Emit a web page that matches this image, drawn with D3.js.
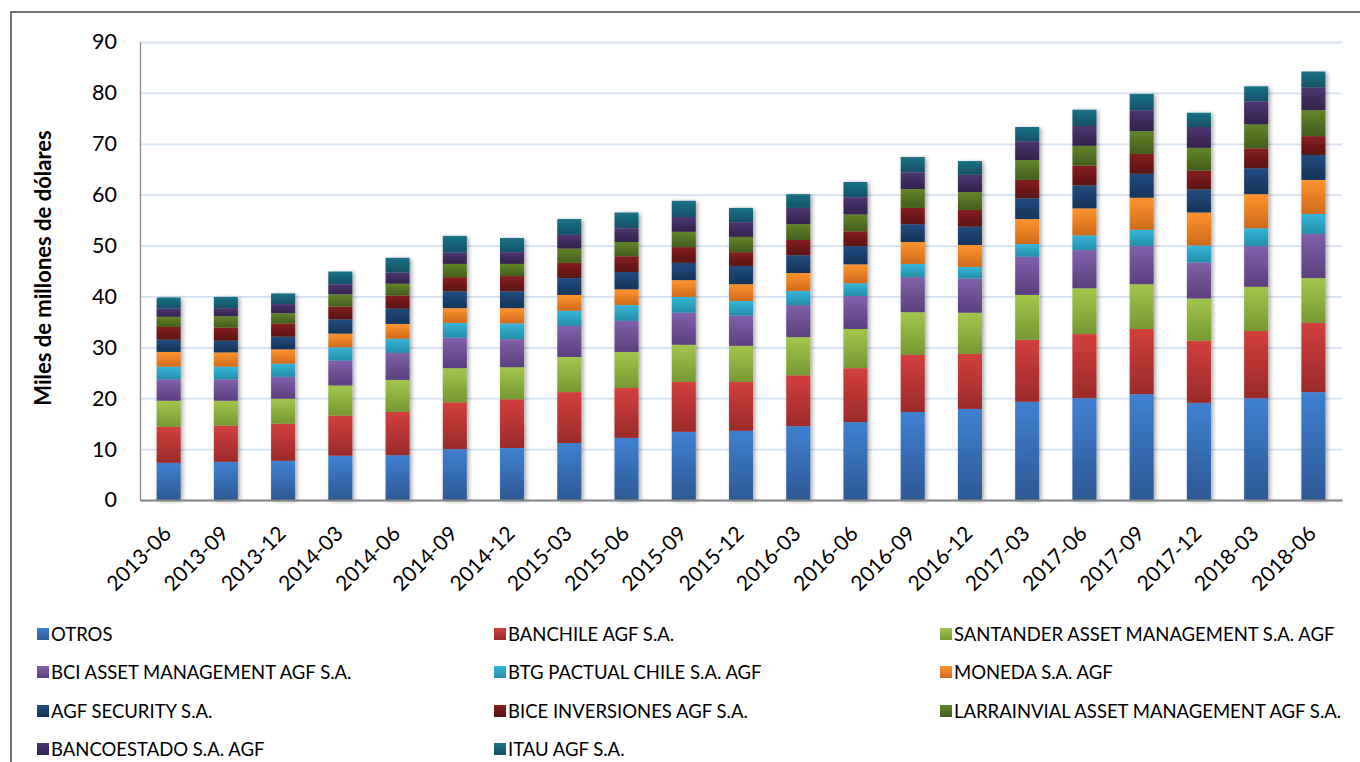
<!DOCTYPE html>
<html>
  <head>
    <meta charset="utf-8">
    <title>Patrimonio administrado por AGF</title>
    <script src="https://d3js.org/d3.v7.min.js"></script>
    <style>
      body { margin: 0; background: #fff; }
      text { font-family: Lato, "Open Sans", sans-serif; }
    </style>
  </head>
  <body>
    <script>
        // Data (miles de millones de dolares)
        var periods = ["2013-06","2013-09","2013-12","2014-03","2014-06","2014-09","2014-12",
                       "2015-03","2015-06","2015-09","2015-12","2016-03","2016-06","2016-09",
                       "2016-12","2017-03","2017-06","2017-09","2017-12","2018-03","2018-06"];

        var otros       = [7.3,7.5,7.7,8.7,8.8,10.0,10.2,11.2,12.2,13.4,13.6,14.5,15.3,17.3,17.9,19.3,20.0,20.8,19.1,20.0,21.2];
        var banchile    = [7.1,7.1,7.3,7.9,8.5,9.2,9.6,10.0,9.8,9.8,9.6,10.0,10.6,11.2,10.8,12.2,12.6,12.8,12.2,13.2,13.6];
        var santander   = [5.1,4.9,4.9,5.9,6.3,6.7,6.3,6.9,7.1,7.3,7.1,7.5,7.7,8.4,8.1,8.8,9.0,8.8,8.3,8.7,8.8];
        var bci         = [4.2,4.2,4.3,4.9,5.3,6.0,5.5,6.1,6.1,6.3,5.9,6.3,6.5,6.9,6.7,7.5,7.5,7.5,7.1,8.0,8.7];
        var btg         = [2.5,2.5,2.6,2.6,2.8,2.9,3.1,3.0,3.1,3.1,2.9,2.8,2.5,2.6,2.3,2.5,2.9,3.2,3.3,3.5,3.9];
        var moneda      = [2.9,2.8,2.8,2.7,2.9,2.9,3.0,3.1,3.1,3.3,3.3,3.5,3.7,4.3,4.3,4.9,5.3,6.3,6.5,6.7,6.7];
        var security    = [2.4,2.3,2.5,2.8,3.0,3.3,3.3,3.3,3.4,3.4,3.6,3.5,3.6,3.5,3.6,4.1,4.5,4.7,4.5,5.1,4.9];
        var bice        = [2.5,2.6,2.6,2.5,2.6,2.8,3.0,3.0,3.1,3.1,2.7,3.0,2.9,3.2,3.3,3.6,3.9,3.9,3.7,3.9,3.7];
        var larrain     = [2.0,2.2,2.0,2.4,2.3,2.6,2.4,2.8,2.8,3.0,3.0,3.1,3.3,3.7,3.5,3.9,3.9,4.5,4.5,4.7,5.1];
        var bancoestado = [1.6,1.6,1.8,2.0,2.2,2.2,2.3,2.7,2.7,2.9,2.9,3.2,3.4,3.3,3.4,3.7,3.9,4.1,4.1,4.5,4.5];
        var itau        = [2.2,2.2,2.1,2.5,2.9,3.3,2.8,3.1,3.1,3.2,2.8,2.7,3.0,3.0,2.7,2.8,3.2,3.2,2.8,3.0,3.1];

        var seriesNames = ["OTROS","BANCHILE AGF S.A.","SANTANDER ASSET MANAGEMENT S.A. AGF",
                           "BCI ASSET MANAGEMENT AGF S.A.","BTG PACTUAL CHILE S.A. AGF","MONEDA S.A. AGF",
                           "AGF SECURITY S.A.","BICE INVERSIONES AGF S.A.","LARRAINVIAL ASSET MANAGEMENT AGF S.A.",
                           "BANCOESTADO S.A. AGF","ITAU AGF S.A."];
        var seriesValues = [otros, banchile, santander, bci, btg, moneda, security, bice, larrain, bancoestado, itau];
        var yTicks = [0,10,20,30,40,50,60,70,80,90];

        // top / bottom colours of each gradient
        var colorsTop    = ["#3f80d0","#d33f3c","#a2c64c","#8060aa","#37b6da","#ff942e","#214c80","#861f1f","#62852a","#4c3573","#1b7389"];
        var colorsBottom = ["#2c5a95","#9a2b29","#769932","#5c3f7f","#238ea9","#cf6a1c","#15345a","#5a1212","#445e1b","#32234b","#125066"];

        var table = periods.map(function(p, i) {
            var row = {period: p};
            seriesNames.forEach(function(n, j) { row[n] = seriesValues[j][i]; });
            return row;
        });

        var margin = {top: 42, right: 18, bottom: 262, left: 140}
        var width = 1360 - margin.left - margin.right
        var height = 762 - margin.top - margin.bottom

        var root = d3.select("body").append("svg")
            .attr("width", 1360)
            .attr("height", 762);

        var defs = root.append("defs");
        seriesNames.forEach(function(n, j) {
            var g = defs.append("linearGradient")
                .attr("id", "grad" + j)
                .attr("x1", 0).attr("y1", 0).attr("x2", 0).attr("y2", 1);
            g.append("stop").attr("offset", "0%").attr("stop-color", colorsTop[j]);
            g.append("stop").attr("offset", "100%").attr("stop-color", colorsBottom[j]);
        });
        var shadow = defs.append("filter").attr("id", "shadow")
            .attr("x", "-50%").attr("y", "-10%").attr("width", "200%").attr("height", "120%");
        shadow.append("feDropShadow")
            .attr("dx", 2).attr("dy", 1).attr("stdDeviation", 2.2)
            .attr("flood-color", "#000").attr("flood-opacity", 0.35);

        // chart frame
        root.append("rect")
            .attr("x", 11).attr("y", 12)
            .attr("width", 1400).attr("height", 800)
            .attr("fill", "#fff")
            .attr("stroke", "#505050")
            .attr("stroke-width", 1.6);

        var svg = root.append("g")
            .attr("transform", "translate(" + margin.left + "," + margin.top + ")");

        var x = d3.scaleBand()
            .domain(periods)
            .range([0, width])
            .paddingInner(0.58)
            .paddingOuter(0.29);

        var y = d3.scaleLinear()
            .domain([0, 90])
            .range([height, 0]);

        // gridlines
        svg.append("g")
            .attr("class", "grid")
            .call(d3.axisLeft(y).tickValues(yTicks).tickSize(-width).tickFormat(""))
            .call(function(g) { g.select(".domain").remove(); })
            .selectAll("line")
            .attr("stroke", "#d6e1f1")
            .attr("stroke-width", 1.8);

        var stack = d3.stack().keys(seriesNames);
        var stacked = stack(table);

        var layers = svg.append("g")
            .attr("filter", "url(#shadow)")
            .selectAll("g")
            .data(stacked)
            .enter()
            .append("g")
            .attr("fill", function(d, i) { return "url(#grad" + i + ")"; });

        layers.selectAll("rect")
            .data(function(d) { return d; })
            .enter()
            .append("rect")
            .attr("x", function(d) { return x(d.data.period); })
            .attr("y", function(d) { return y(d[1]); })
            .attr("width", x.bandwidth())
            .attr("height", function(d) { return y(d[0]) - y(d[1]); });

        // y axis
        var yAxis = svg.append("g")
            .call(d3.axisLeft(y).tickValues(yTicks).tickSize(0).tickPadding(23));
        yAxis.select(".domain").attr("stroke", "#8c8c8c").attr("stroke-width", 1.3);
        yAxis.selectAll("text")
            .style("font-size", "21.5px")
            .style("font-family", "Lato")
            .attr("fill", "#000");

        // x axis
        var xAxis = svg.append("g")
            .attr("transform", "translate(0," + height + ")")
            .call(d3.axisBottom(x).tickSize(0));
        xAxis.select(".domain").attr("stroke", "#858585").attr("stroke-width", 2);
        xAxis.selectAll("text")
            .attr("x", 0).attr("y", 0).attr("dy", 0)
            .attr("transform", "translate(4,35) rotate(-45)")
            .style("text-anchor", "end")
            .style("font-size", "21px")
            .style("font-family", "Lato")
            .attr("fill", "#000");

        // y title
        root.append("text")
            .attr("text-anchor", "middle")
            .attr("transform", "translate(51,268) rotate(-90)")
            .style("font-size", "22px")
            .style("font-weight", "bold")
            .text("Miles de millones de dólares");

        // legend, 3 columns
        var legendCols = [37, 494, 940];
        var legendRows = [634, 672, 711, 749];
        var legend = root.append("g")
            .selectAll("g")
            .data(seriesNames)
            .enter()
            .append("g")
            .attr("transform", function(d, i) {
                return "translate(" + legendCols[i % 3] + "," + legendRows[Math.floor(i / 3)] + ")";
            });
        legend.append("rect")
            .attr("x", 0).attr("y", -6)
            .attr("width", 12).attr("height", 12)
            .attr("fill", function(d, i) { return "url(#grad" + i + ")"; });
        legend.append("text")
            .attr("x", 14)
            .attr("y", 6.5)
            .style("font-size", "18.5px")
            .attr("fill", "#000")
            .text(function(d) { return d; });
    </script>
  </body>
</html>
